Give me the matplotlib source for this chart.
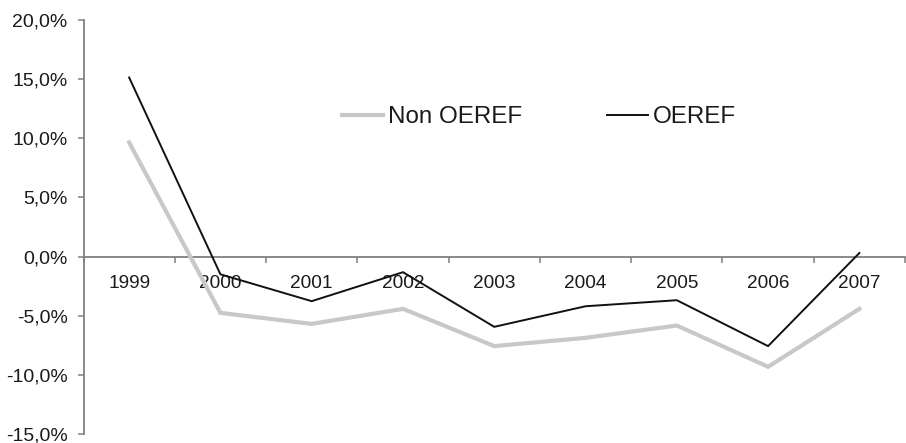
import matplotlib
matplotlib.use("Agg")
import matplotlib.pyplot as plt
from matplotlib.ticker import FuncFormatter, FixedLocator

plt.rcParams['font.family'] = ['Liberation Sans', 'DejaVu Sans']

years = ["1999", "2000", "2001", "2002", "2003", "2004", "2005", "2006", "2007"]
non_oeref = [9.65, -4.76, -5.69, -4.42, -7.57, -6.87, -5.83, -9.32, -4.42]
oeref = [15.14, -1.5, -3.77, -1.32, -5.94, -4.2, -3.69, -7.57, 0.3]
y_ticks = [-15, -10, -5, 0, 5, 10, 15, 20]

W, H = 906, 443
fig = plt.figure(figsize=(W / 100, H / 100), dpi=100)
ax = fig.add_axes([83.5 / W, 1 - 434 / H, (905 - 83.5) / W, (434 - 20) / H])

x = list(range(len(years)))
ax.plot(x, non_oeref, color="#c8c8c8", lw=3.0, solid_joinstyle="miter",
        label="Non OEREF", zorder=3)
ax.plot(x, oeref, color="#111111", lw=1.4, solid_joinstyle="miter",
        label="OEREF", zorder=4)

ax.set_xlim(-0.5, len(years) - 0.5)
ax.set_ylim(-15, 20)

axis_col = "#808080"
for s in ("top", "right"):
    ax.spines[s].set_visible(False)
ax.spines["bottom"].set_position(("data", 0))
ax.spines["bottom"].set_color(axis_col)
ax.spines["left"].set_color(axis_col)
ax.spines["bottom"].set_linewidth(1.3)
ax.spines["left"].set_linewidth(1.3)

ax.set_yticks(y_ticks)
ax.yaxis.set_major_formatter(FuncFormatter(lambda v, p: f"{v:.1f}%".replace(".", ",")))
ax.tick_params(axis="y", direction="out", length=4.3, width=1.1, color=axis_col,
               pad=7.2, labelsize=14, labelcolor="#1a1a1a")

ax.set_xticks(x)
ax.set_xticklabels(years)
ax.xaxis.set_minor_locator(FixedLocator([i - 0.5 for i in range(len(years) + 1)]))
ax.tick_params(axis="x", which="major", length=0, pad=13.5, labelsize=13.7,
               labelcolor="#1a1a1a")
ax.tick_params(axis="x", which="minor", direction="out", length=4.3, width=1.1,
               color=axis_col)

leg = ax.legend(loc="center left", bbox_to_anchor=(342 / W, 1 - 117 / H),
                bbox_transform=fig.transFigure, ncol=2, frameon=False,
                fontsize=17.4, handlelength=1.7, handletextpad=0.2,
                columnspacing=3.5, borderpad=0, borderaxespad=0)
for t in leg.get_texts():
    t.set_color("#1a1a1a")

fig.savefig("out.png", dpi=100)
